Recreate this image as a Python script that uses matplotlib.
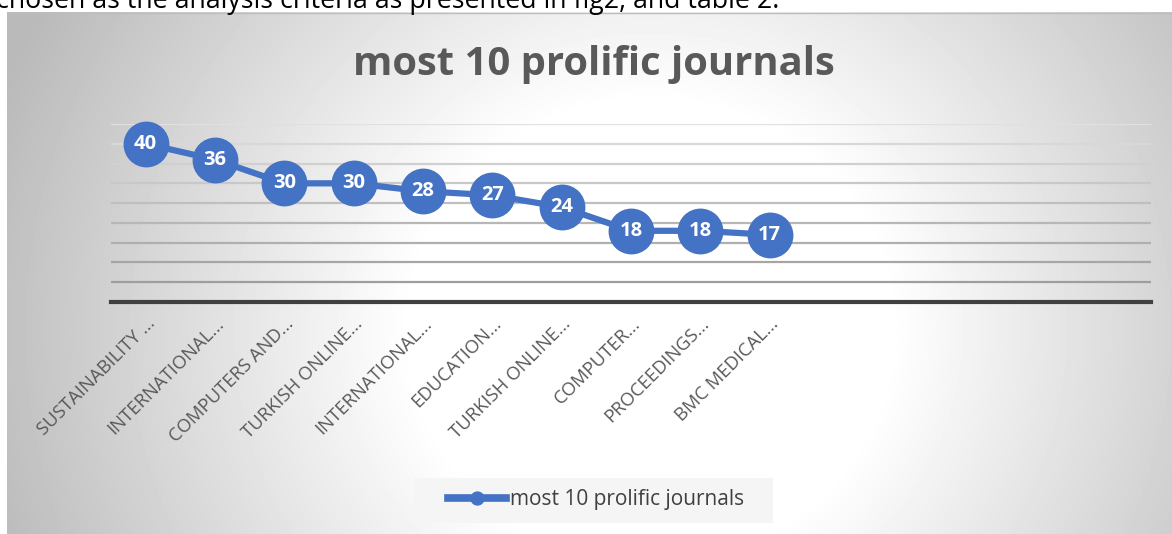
import numpy as np
import matplotlib
matplotlib.use("Agg")
import matplotlib.pyplot as plt
from matplotlib.patches import Rectangle

# data
journals = ["SUSTAINABILITY ...", "INTERNATIONAL...", "COMPUTERS AND...", "TURKISH ONLINE...",
            "INTERNATIONAL...", "EDUCATION...", "TURKISH ONLINE...", "COMPUTER...",
            "PROCEEDINGS...", "BMC MEDICAL..."]
counts = [40, 36, 30, 30, 28, 27, 24, 18, 18, 17]
n_slots = 15                      # chart axis has 15 category slots, only 10 filled
y_ticks = list(range(0, 50, 5))
title = "most 10 prolific journals"
caption = "chosen as the analysis criteria as presented in fig2, and table 2."

W, H = 1172, 534
blue = "#4472C4"
font = "Open Sans"

fig = plt.figure(figsize=(W / 100, H / 100), dpi=100)
fig.patch.set_facecolor("white")

# grey radial gradient chart background
bg = fig.add_axes([7 / W, 0, 1 - 7 / W, (H - 12) / H])
xx, yy = np.meshgrid(np.arange(7, W), np.arange(12, H))
d = np.hypot(xx - 650, (yy - 330) * 1.05)
v = 255 - 55 * np.clip((d - 240) / 360, 0, 1.25)
bg.imshow(v, cmap="gray", vmin=0, vmax=255, aspect="auto", interpolation="bilinear")
bg.axhline(0, color="#bdbdbd", lw=1)
bg.set_axis_off()

# cut-off caption line above the chart (only its lower part shows)
fig.text(-4 / W, 1 - 8 / H, caption, fontsize=19.3, family=font, color="black", va="baseline")

ax = fig.add_axes([111 / W, 1 - 302 / H, (1151 - 111) / W, (302 - 124) / H])
ax.set_facecolor("none")
ax.set_xlim(-0.5, n_slots - 0.5)
ax.set_ylim(0, 45)

# gridlines darken toward the bottom
grey_top, grey_bot = np.array([0.88, 0.88, 0.88]), np.array([0.62, 0.62, 0.62])
for i, t in enumerate(y_ticks[1:]):
    f = (len(y_ticks) - 1 - i - 1) / (len(y_ticks) - 2)
    ax.axhline(t, color=grey_top * (1 - f) + grey_bot * f, lw=1.6, zorder=1)
ax.axhline(0, color="#404040", lw=3, zorder=2, clip_on=False)

x = np.arange(len(counts))
ax.plot(x, counts, color=blue, lw=4.5, marker="o", ms=32, mfc=blue, mec=blue,
        zorder=3, label=title, clip_on=False)
for xi, c in zip(x, counts):
    ax.text(xi, c, str(c), ha="center", va="center", color="white", fontsize=14.5,
            fontweight="bold", family=font, zorder=4)

ax.set_xticks(x)
ax.set_xticklabels(journals, rotation=45, ha="right", rotation_mode="anchor",
                   fontsize=13.3, family=font, color="#595959")
ax.tick_params(axis="x", length=0, pad=9)
ax.set_yticks([])
for s in ax.spines.values():
    s.set_visible(False)

fig.text(594 / W, 1 - 64 / H, title, ha="center", va="center", fontsize=28.8,
         fontweight="bold", family=font, color="#595959")

# legend with its pale box
fig.patches.append(Rectangle((414 / W, 1 - 523 / H), 359 / W, 45 / H, transform=fig.transFigure,
                             facecolor="#f5f5f5", edgecolor="none", zorder=0))
leg = fig.legend(loc="center", bbox_to_anchor=(596 / W, 1 - 500 / H), frameon=False,
                 prop={"family": font, "size": 15}, handlelength=2.75,
                 handletextpad=0.2, borderpad=0.2, markerscale=0.29)
for t in leg.get_texts():
    t.set_color("#404040")
for h in leg.legend_handles:
    h.set_linewidth(5.5)

fig.savefig("out.png", dpi=100)
